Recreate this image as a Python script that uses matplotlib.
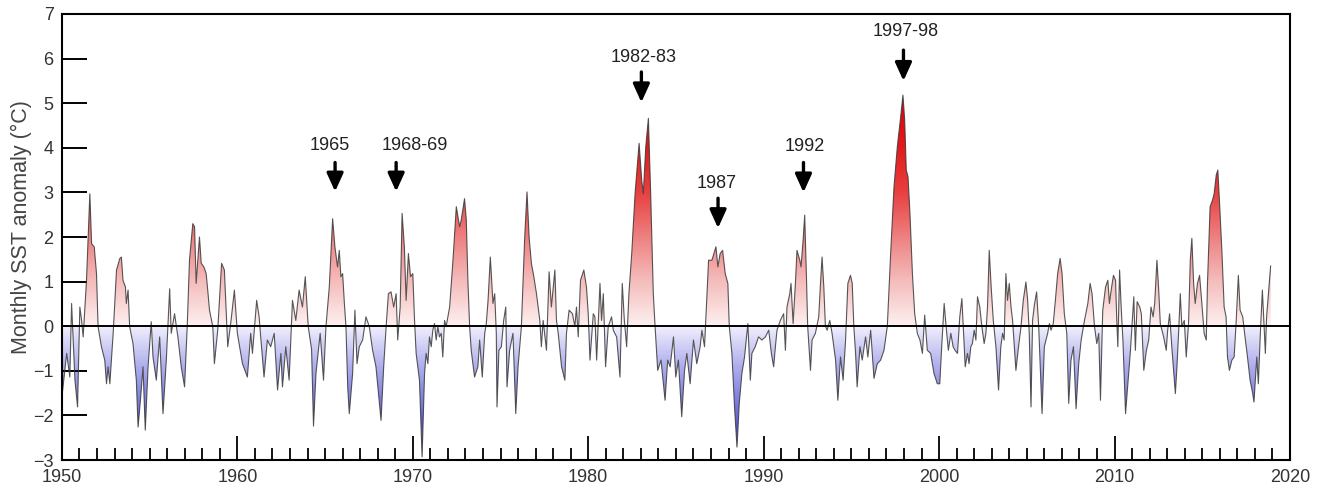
import numpy as np
import matplotlib.pyplot as plt
from matplotlib.colors import LinearSegmentedColormap
from matplotlib.patches import PathPatch, ArrowStyle

plt.rcParams['font.family'] = ['Liberation Sans', 'DejaVu Sans']

# monthly SST anomaly (turning points), by decade
t_1950s = [1950.00, 1950.27, 1950.45, 1950.55, 1950.74, 1950.89, 1951.02, 1951.12, 1951.21, 1951.40,
           1951.59, 1951.69, 1951.84, 1951.97, 1952.06, 1952.25, 1952.44, 1952.54, 1952.63, 1952.73,
           1952.92, 1953.11, 1953.30, 1953.39, 1953.48, 1953.62, 1953.67, 1953.77, 1953.86, 1954.05,
           1954.24, 1954.34, 1954.49, 1954.62, 1954.75, 1954.91, 1955.09, 1955.19, 1955.38, 1955.57,
           1955.76, 1955.95, 1956.14, 1956.23, 1956.42, 1956.61, 1956.80, 1956.99, 1957.14, 1957.27,
           1957.46, 1957.56, 1957.65, 1957.84, 1957.94, 1958.09, 1958.22, 1958.31, 1958.41, 1958.60,
           1958.69, 1958.88, 1959.10, 1959.26, 1959.45, 1959.64, 1959.83]
v_1950s = [-1.58, -0.61, -1.14, 0.51, -1.21, -1.81, 0.43, 0.13, -0.24, 1.03,
           2.97, 1.85, 1.78, 1.18, -0.01, -0.46, -0.76, -1.29, -0.91, -1.29,
           -0.16, 1.26, 1.52, 1.55, 1.03, 0.88, 0.51, 0.81, -0.01, -0.39,
           -1.21, -2.26, -1.58, -0.91, -2.33, -0.91, 0.10, -0.69, -1.21, -0.24,
           -1.96, -0.76, 0.84, -0.16, 0.28, -0.24, -0.91, -1.36, -0.01, 1.48,
           2.30, 2.23, 0.96, 2.00, 1.41, 1.33, 1.18, 0.81, 0.36, -0.01,
           -0.84, -0.09, 1.41, 1.26, -0.46, 0.13, 0.81]

t_1960s = [1960.00, 1960.29, 1960.57, 1960.76, 1960.86, 1961.10, 1961.24, 1961.33, 1961.52, 1961.71,
           1961.90, 1962.10, 1962.29, 1962.48, 1962.57, 1962.76, 1962.95, 1963.14, 1963.33, 1963.52,
           1963.71, 1963.87, 1964.04, 1964.23, 1964.34, 1964.48, 1964.72, 1964.91, 1965.05, 1965.24,
           1965.43, 1965.56, 1965.71, 1965.81, 1965.90, 1966.00, 1966.10, 1966.19, 1966.29, 1966.38,
           1966.57, 1966.70, 1966.82, 1966.95, 1967.14, 1967.33, 1967.52, 1967.71, 1967.90, 1968.19,
           1968.34, 1968.48, 1968.61, 1968.76, 1968.91, 1969.05, 1969.14, 1969.28, 1969.39, 1969.52,
           1969.62, 1969.75, 1969.87]
v_1960s = [-0.16, -0.84, -1.14, -0.16, -0.61, 0.58, 0.21, -0.24, -1.14, -0.31,
           -0.46, -0.16, -1.43, -0.61, -1.36, -0.46, -1.21, 0.58, 0.13, 0.81,
           0.43, 1.11, -0.01, -0.52, -2.24, -1.06, -0.16, -1.21, -0.01, 0.88,
           2.41, 1.78, 1.33, 1.70, 1.11, 1.18, 0.51, -0.01, -1.36, -1.96,
           -1.06, 0.36, -0.84, -0.46, -0.31, 0.21, -0.01, -0.54, -0.91, -2.11,
           -0.91, -0.01, 0.73, 0.77, 0.43, 0.73, -0.31, 0.43, 2.53, 1.78,
           0.58, 1.63, 1.11]

t_1970s = [1970.00, 1970.10, 1970.19, 1970.38, 1970.53, 1970.67, 1970.76, 1970.86, 1970.95, 1971.05,
           1971.14, 1971.24, 1971.33, 1971.43, 1971.52, 1971.62, 1971.71, 1971.81, 1971.90, 1972.00,
           1972.10, 1972.29, 1972.48, 1972.67, 1972.76, 1972.95, 1973.05, 1973.14, 1973.24, 1973.33,
           1973.52, 1973.71, 1973.81, 1973.96, 1974.10, 1974.19, 1974.29, 1974.42, 1974.57, 1974.67,
           1974.76, 1974.80, 1974.91, 1975.05, 1975.18, 1975.30, 1975.37, 1975.52, 1975.71, 1975.87,
           1976.00, 1976.19, 1976.38, 1976.51, 1976.63, 1976.76, 1976.90, 1977.05, 1977.24, 1977.33,
           1977.43, 1977.62, 1977.77, 1977.90, 1978.10, 1978.19, 1978.29, 1978.48, 1978.67, 1978.76,
           1978.91, 1979.10, 1979.24, 1979.33, 1979.43, 1979.56, 1979.75, 1979.90]
v_1970s = [1.18, 0.13, -0.61, -1.21, -2.93, -1.06, -0.61, -0.84, -0.24, -0.46,
           -0.09, 0.06, -0.31, -0.01, -0.24, -0.16, -0.69, 0.13, -0.01, 0.21,
           0.43, 1.48, 2.68, 2.23, 2.38, 2.86, 2.38, 1.03, -0.01, -0.54,
           -1.14, -0.91, -0.31, -1.14, -0.16, 0.06, 0.58, 1.55, 0.51, 0.73,
           -0.16, -1.81, -0.54, -0.46, 0.13, 0.43, -1.36, -0.54, -0.16, -1.96,
           -0.91, -0.01, 2.00, 3.01, 2.00, 1.41, 1.11, 0.73, 0.13, -0.46,
           0.13, -0.54, 1.22, 0.43, 1.26, 0.13, -0.16, -0.91, -1.21, -0.16,
           0.36, 0.28, -0.01, 0.43, -0.24, 1.03, 1.26, 0.88]

t_1980s = [1980.00, 1980.10, 1980.29, 1980.38, 1980.48, 1980.67, 1980.76, 1980.86, 1980.99, 1981.14,
           1981.33, 1981.43, 1981.62, 1981.81, 1981.94, 1982.06, 1982.19, 1982.32, 1982.48, 1982.67,
           1982.90, 1983.05, 1983.14, 1983.28, 1983.43, 1983.56, 1983.71, 1983.81, 1983.96, 1984.15,
           1984.38, 1984.53, 1984.67, 1984.86, 1984.99, 1985.14, 1985.33, 1985.49, 1985.62, 1985.81,
           1986.00, 1986.19, 1986.38, 1986.48, 1986.63, 1986.70, 1986.86, 1987.05, 1987.28, 1987.39,
           1987.52, 1987.66, 1987.81, 1987.96, 1988.04, 1988.19, 1988.34, 1988.48, 1988.61, 1988.76,
           1988.91, 1989.10, 1989.24, 1989.33, 1989.52, 1989.71, 1989.90]
v_1980s = [0.28, -0.76, 0.28, 0.21, -0.76, 0.96, 0.13, 0.73, -0.91, -0.01,
           0.21, -0.09, -0.24, -1.14, 0.96, 0.13, -0.46, 0.73, 1.63, 2.97,
           4.10, 3.27, 2.97, 4.02, 4.66, 2.97, 0.73, 0.00, -0.99, -0.76,
           -1.66, -0.76, -0.91, -0.24, -1.14, -0.76, -2.03, -0.99, -0.61, -1.29,
           -0.31, -0.84, -0.46, -0.09, -0.46, 0.13, 1.48, 1.48, 1.78, 1.33,
           1.63, 1.70, 1.18, 0.96, 0.00, -0.61, -1.81, -2.71, -1.73, -1.06,
           -0.69, 0.06, -1.21, -0.61, -0.46, -0.24, -0.31]

t_1990s = [1990.10, 1990.29, 1990.44, 1990.57, 1990.67, 1990.76, 1990.95, 1991.14, 1991.24, 1991.33,
           1991.49, 1991.56, 1991.68, 1991.81, 1991.90, 1992.06, 1992.13, 1992.25, 1992.34, 1992.44,
           1992.51, 1992.67, 1992.76, 1992.95, 1993.14, 1993.24, 1993.33, 1993.43, 1993.52, 1993.62,
           1993.77, 1993.90, 1994.10, 1994.23, 1994.38, 1994.53, 1994.67, 1994.80, 1994.95, 1995.05,
           1995.14, 1995.24, 1995.33, 1995.49, 1995.62, 1995.81, 1995.94, 1996.10, 1996.29, 1996.48,
           1996.67, 1996.86, 1997.05, 1997.24, 1997.43, 1997.62, 1997.81, 1997.94, 1998.04, 1998.13,
           1998.23, 1998.34, 1998.48, 1998.61, 1998.76, 1998.91, 1999.05, 1999.18, 1999.33, 1999.52,
           1999.71, 1999.90]
v_1990s = [-0.24, -0.09, -0.61, -0.91, -0.46, -0.09, 0.13, 0.28, -0.54, 0.43,
           0.73, 0.96, 0.06, 0.96, 1.70, 1.48, 1.33, 1.93, 2.49, 1.11,
           0.00, -0.99, -0.31, -0.16, 0.21, 0.96, 1.55, 0.88, 0.00, -0.09,
           0.13, -0.16, -0.76, -1.66, -0.69, -1.21, -0.31, 0.96, 1.14, 0.96,
           0.00, -0.61, -1.36, -0.46, -0.76, -0.24, -0.69, -0.09, -1.17, -0.84,
           -0.76, -0.54, 0.00, 1.63, 3.12, 4.02, 4.69, 5.18, 4.62, 3.50,
           3.35, 2.53, 1.18, 0.28, -0.16, -0.31, -0.61, 0.25, -0.54, -0.61,
           -1.06, -1.29]

t_2000s = [2000.04, 2000.15, 2000.29, 2000.42, 2000.53, 2000.67, 2000.80, 2000.91, 2001.05, 2001.18,
           2001.30, 2001.43, 2001.49, 2001.62, 2001.71, 2001.81, 2001.90, 2002.00, 2002.10, 2002.19,
           2002.32, 2002.44, 2002.57, 2002.67, 2002.76, 2002.86, 2002.97, 2003.09, 2003.24, 2003.39,
           2003.52, 2003.62, 2003.71, 2003.81, 2003.90, 2004.00, 2004.10, 2004.19, 2004.38, 2004.53,
           2004.67, 2004.80, 2004.95, 2005.05, 2005.14, 2005.24, 2005.33, 2005.43, 2005.56, 2005.68,
           2005.87, 2006.00, 2006.19, 2006.29, 2006.38, 2006.51, 2006.63, 2006.76, 2006.90, 2007.01,
           2007.14, 2007.28, 2007.39, 2007.52, 2007.66, 2007.81, 2007.96, 2008.10, 2008.29, 2008.48,
           2008.61, 2008.72, 2008.86, 2008.99, 2009.10, 2009.20, 2009.33, 2009.49, 2009.62, 2009.71,
           2009.81, 2009.94]
v_2000s = [-1.29, -0.46, 0.51, -0.09, -0.54, -0.16, -0.46, -0.54, -0.61, 0.21,
           0.62, -0.46, -0.91, -0.61, -0.84, -0.46, -0.39, -0.09, -0.31, 0.66,
           0.43, -0.01, -0.39, -0.16, 0.43, 1.70, 0.88, 0.13, -0.46, -1.43,
           -0.46, -0.16, -0.31, 1.18, 0.58, 0.96, 0.43, 0.13, -0.99, -0.46,
           -0.01, 0.58, 0.99, 0.58, -0.16, -1.81, 0.13, 0.47, 0.77, -0.01,
           -1.96, -0.46, -0.16, 0.06, -0.09, 0.06, 0.58, 1.18, 1.52, 1.18,
           0.28, -0.16, -1.73, -0.76, -0.46, -1.85, -0.84, -0.31, 0.13, 0.51,
           0.96, 0.73, -0.01, -0.39, -0.16, -1.66, 0.36, 0.88, 1.03, 0.51,
           0.81, 1.14]

t_2010s = [2010.06, 2010.13, 2010.19, 2010.29, 2010.38, 2010.48, 2010.63, 2010.76, 2010.91, 2011.10,
           2011.19, 2011.29, 2011.44, 2011.53, 2011.67, 2011.82, 2011.95, 2012.08, 2012.20, 2012.29,
           2012.42, 2012.52, 2012.61, 2012.80, 2012.95, 2013.03, 2013.14, 2013.28, 2013.47, 2013.56,
           2013.66, 2013.75, 2013.84, 2013.98, 2014.09, 2014.22, 2014.32, 2014.41, 2014.51, 2014.60,
           2014.73, 2014.85, 2014.98, 2015.11, 2015.23, 2015.30, 2015.45, 2015.59, 2015.68, 2015.80,
           2015.89, 2015.98, 2016.12, 2016.25, 2016.36, 2016.44, 2016.55, 2016.69, 2016.82, 2016.93,
           2017.06, 2017.16, 2017.31, 2017.44, 2017.58, 2017.73, 2017.88, 2017.95, 2018.11, 2018.20,
           2018.33, 2018.43, 2018.52, 2018.60, 2018.67, 2018.90]
v_2010s = [1.03, 0.13, -0.46, 1.26, 0.43, -0.31, -1.96, -1.29, -0.54, 0.66,
           -0.54, 0.55, 0.43, 0.28, -0.99, -0.54, -0.31, 0.43, 0.21, 0.51,
           1.48, 0.81, 0.06, -0.24, -0.54, -0.09, 0.28, -0.54, -1.51, -0.91,
           -0.09, 0.73, -0.01, 0.13, -0.69, 0.06, 1.48, 1.97, 0.96, 0.51,
           0.96, 1.14, 0.51, -0.16, -0.31, 0.96, 2.68, 2.83, 2.97, 3.39,
           3.50, 2.83, 1.70, 0.43, 0.21, -0.69, -0.99, -0.76, -0.69, 0.06,
           1.14, 0.36, 0.21, -0.24, -0.69, -1.21, -1.51, -1.70, -0.69, -1.29,
           -0.01, 0.81, 0.06, -0.61, 0.21, 1.35]

# labelled El Nino events: label, arrow x, text x, text y, arrow tail, arrow tip
events = ['1965', '1968-69', '1982-83', '1987', '1992', '1997-98']
event_x = [1965.57, 1969.05, 1983.03, 1987.40, 1992.27, 1997.97]
event_text_x = [1965.29, 1970.10, 1983.15, 1987.30, 1992.33, 1998.09]
event_text_y = [4.06, 4.06, 6.03, 3.20, 4.04, 6.60]
event_tail = [3.67, 3.67, 5.70, 2.87, 3.67, 6.19]
event_tip = [3.02, 3.02, 5.02, 2.20, 3.00, 5.50]

t = np.concatenate([t_1950s, t_1960s, t_1970s, t_1980s, t_1990s, t_2000s, t_2010s])
v = np.concatenate([v_1950s, v_1960s, v_1970s, v_1980s, v_1990s, v_2000s, v_2010s])

fig = plt.figure(figsize=(13.18, 4.91), dpi=100)
ax = fig.add_axes([0.0470, 0.0631, 0.9317, 0.9084])
ax.set_xlim(1950, 2020)
ax.set_ylim(-3, 7)

# gradient fill: red above zero, blue below, clipped to the area under the curve
cmap = LinearSegmentedColormap.from_list('sst', [
    (0.00, '#3c3cc4'),
    (0.05, '#4b4bd2'),
    (0.20, '#a9a9ec'),
    (0.30, '#f2f0fd'),
    (0.30001, '#fdf0f0'),
    (0.40, '#f5bcbc'),
    (0.50, '#ee8080'),
    (0.60, '#e84040'),
    (0.70, '#e41a1a'),
    (0.82, '#e00008'),
    (1.00, '#d00000'),
])
fill = ax.fill_between(t, v, 0, facecolor='none', edgecolor='none')
clip = PathPatch(fill.get_paths()[0], transform=ax.transData,
                 facecolor='none', edgecolor='none')
ax.add_patch(clip)
grad = np.linspace(-3, 7, 600).reshape(-1, 1)
im = ax.imshow(grad, cmap=cmap, vmin=-3, vmax=7, origin='lower',
               extent=[1950, 2020, -3, 7], aspect='auto', interpolation='bilinear')
im.set_clip_path(clip)

ax.plot(t, v, color='#3a3a3a', lw=0.8, alpha=0.85)
ax.axhline(0, color='black', lw=1.4)

# annotations
style = ArrowStyle('-|>', head_length=1.1, head_width=0.5)
for lab, ax_x, tx, ty, tail, tip in zip(events, event_x, event_text_x,
                                        event_text_y, event_tail, event_tip):
    ax.text(tx, ty, lab, ha='center', va='center', fontsize=13, color='#222222')
    ax.annotate('', xy=(ax_x, tip), xytext=(ax_x, tail),
                arrowprops=dict(arrowstyle=style, mutation_scale=10, lw=2.4,
                                color='black', shrinkA=0, shrinkB=0))

# axes styling
for sp in ax.spines.values():
    sp.set_linewidth(1.5)
ax.set_yticks(np.arange(-3, 8, 1))
ax.set_xticks(np.arange(1950, 2021, 10))
ax.set_xticks(np.arange(1950, 2021, 1), minor=True)
ax.tick_params(axis='y', direction='in', length=18, width=1.4,
               labelsize=13, labelcolor='#333333', pad=6)
ax.tick_params(axis='x', which='major', direction='in', length=17, width=1.3,
               labelsize=13, labelcolor='#333333', pad=6.5)
ax.tick_params(axis='x', which='minor', direction='in', length=8.5, width=1.3)
ax.set_ylabel('Monthly SST anomaly (°C)', fontsize=15.5, color='#444444')
ax.yaxis.set_label_coords(-0.0245, 0.522)

fig.savefig('out.png', dpi=100)
